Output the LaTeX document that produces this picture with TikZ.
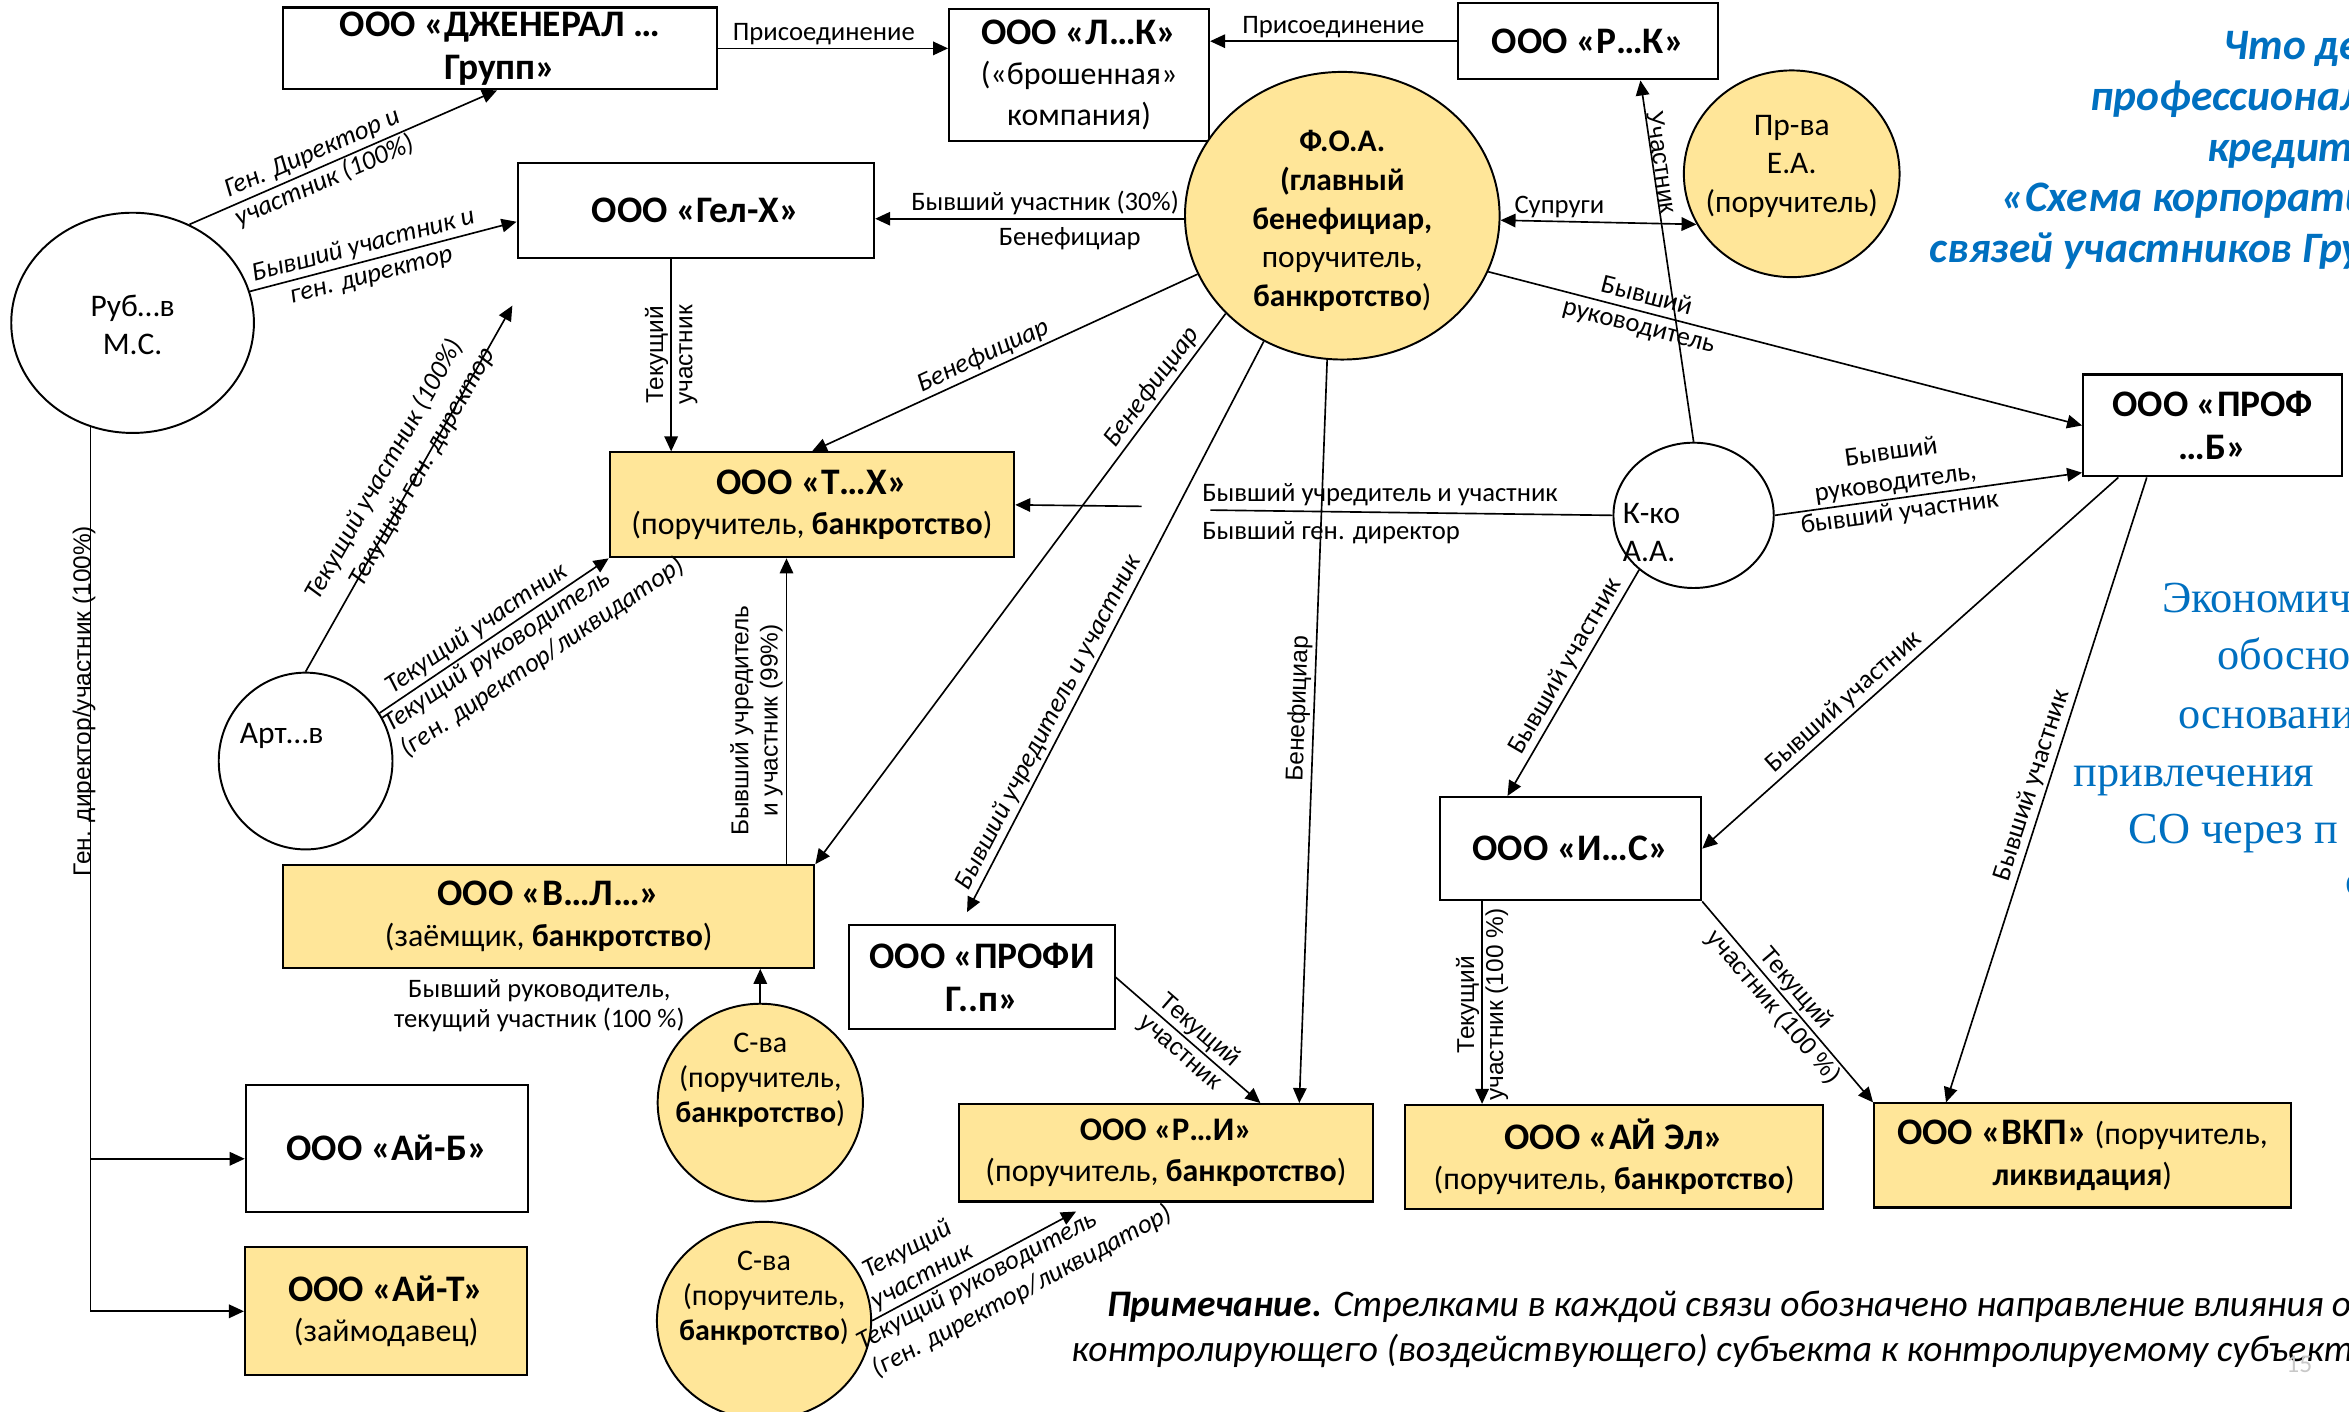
\documentclass[tikz,border=0pt]{standalone}
\usepackage{fontspec}
\setmainfont{Carlito}
\newfontfamily\arialfont{Liberation Sans}
\newfontfamily\timesfont{Liberation Serif}
\usetikzlibrary{arrows.meta,shapes.geometric}
\definecolor{gold}{HTML}{FFE699}
\definecolor{titleblue}{HTML}{0070C0}
\definecolor{pagegray}{HTML}{C8C8C8}
\newcommand{\ttlfont}{\fontsize{25}{28.5}\selectfont\bfseries}
\newcommand{\subfont}{\fontsize{21.3}{27}\selectfont}
\newcommand{\persfont}{\fontsize{21}{25.8}\selectfont}
\newcommand{\lblfont}{\fontsize{17.8}{20.5}\selectfont}
\newcommand{\slblfont}{\arialfont\fontsize{16.3}{19.5}\selectfont}
\tikzset{
  orgbox/.style={rectangle,draw=black,line width=1.4pt,fill=white,
    align=center,inner sep=2pt,font=\subfont},
  ttlbox/.style={orgbox,font=\ttlfont},
  goldbox/.style={orgbox,fill=gold},
  person/.style={ellipse,draw=black,line width=1.3pt,fill=white,inner sep=0pt},
  goldperson/.style={person,fill=gold},
  perstext/.style={align=center,inner sep=0pt,font=\persfont},
  link/.style={draw=black,line width=1.1pt},
  arrow/.style={link,-{Triangle[length=10pt,width=9pt]}},
  mutual/.style={link,{Triangle[length=10pt,width=9pt]}-{Triangle[length=10pt,width=9pt]}},
  lbl/.style={align=center,inner sep=2pt,font=\lblfont},
  ilbl/.style={lbl,font=\lblfont\itshape},
  slbl/.style={align=center,inner sep=2pt,font=\slblfont},
  bluehead/.style={anchor=base west,inner sep=0pt,text=titleblue,
    font=\fontsize{29}{34}\selectfont\bfseries\itshape},
  blueserif/.style={anchor=base west,inner sep=0pt,text=titleblue,
    font=\timesfont\fontsize{29.6}{38.5}\selectfont},
  notetext/.style={anchor=base west,inner sep=0pt,font=\fontsize{25}{31}\selectfont\itshape}
}

\begin{document}
\begin{tikzpicture}[x=1pt,y=-1pt]
\useasboundingbox (0,0) rectangle (1568,942);
\fill[white] (0,0) rectangle (1568,942);
\clip (0,0) rectangle (1568,942);

% companies
\node[ttlbox,minimum width=289.5pt,minimum height=54.6pt] (gen) at (333.8,32.3) {ООО «ДЖЕНЕРАЛ …\\Групп»};
\node[orgbox,minimum width=173.5pt,minimum height=88pt] (lk) at (720.3,50) {{\ttlfont ООО «Л…К»}\\(«брошенная»\\компания)};
\node[ttlbox,minimum width=174pt,minimum height=51pt] (rk) at (1060,27.5) {ООО «Р…К»};
\node[ttlbox,minimum width=238pt,minimum height=63pt] (gelx) at (464.5,140.5) {ООО «Гел-Х»};
\node[goldbox,minimum width=270pt,minimum height=70pt] (tx) at (542,337) {{\ttlfont ООО «Т…Х»}\\(поручитель, \textbf{банкротство})};
\node[goldbox,minimum width=354.5pt,minimum height=68.5pt] (vl) at (366.3,611.8) {{\ttlfont ООО «В…Л…»}\\(заёмщик, \textbf{банкротство})};
\node[ttlbox,minimum width=177pt,minimum height=69.5pt] (profig) at (655.5,652.3) {ООО «ПРОФИ\\Г..п»};
\node[goldbox,minimum width=276.5pt,minimum height=65pt] (ri) at (778.3,769.5) {{\fontsize{22}{26}\selectfont\bfseries ООО «Р…И»}\\(поручитель, \textbf{банкротство})};
\node[ttlbox,minimum width=174.5pt,minimum height=69pt] (ic) at (1048.3,566.5) {ООО «И…С»};
\node[goldbox,minimum width=279pt,minimum height=69.5pt] (ail) at (1077.5,772.3) {{\ttlfont ООО «АЙ Эл»}\\(поручитель, \textbf{банкротство})};
\node[goldbox,minimum width=278pt,minimum height=69.5pt] (vkp) at (1390,771.3) {{\ttlfont ООО «ВКП»} (поручитель,\\\textbf{ликвидация})};
\node[ttlbox,minimum width=173pt,minimum height=68pt] (profb) at (1477,284) {ООО «ПРОФ\\…Б»};
\node[ttlbox,minimum width=188.5pt,minimum height=85pt] (aib) at (258.3,766.5) {ООО «Ай-Б»};
\node[goldbox,minimum width=188.5pt,minimum height=85.5pt] (ait) at (257.8,875.3) {{\ttlfont ООО «Ай-Т»}\\(займодавец)};

% persons
\node[person,minimum width=162pt,minimum height=147pt] (rub) at (88.5,215.5) {};
\node[perstext] (rub-t) at (88.5,217) {Руб…в\\М.С.};
\node[goldperson,minimum width=210pt,minimum height=192pt] (foa) at (896,144) {};
\node[perstext] (foa-t) at (896,147.5) {\textbf{Ф.О.А.}\\\textbf{(главный}\\\textbf{бенефициар,}\\поручитель,\\\textbf{банкротство})};
\node[goldperson,minimum width=144pt,minimum height=138pt] (prva) at (1196,116) {};
\node[perstext] (prva-t) at (1196,111) {Пр-ва\\Е.А.\\(поручитель)};
\node[person,minimum width=107pt,minimum height=97pt] (kko) at (1130.5,344) {};
\node[perstext,anchor=west,align=left] (kko-t) at (1083,355.5) {К-ко\\А.А.};
\node[person,minimum width=116pt,minimum height=118pt] (art) at (204,508) {};
\node[perstext] (art-t) at (188,491) {Арт…в};
\node[goldperson,minimum width=137pt,minimum height=132pt] (sva1) at (507.5,736) {};
\node[perstext,font=\fontsize{20}{23.3}\selectfont] (sva1-t) at (507.5,721) {С-ва\\(поручитель,\\\textbf{банкротство})};
\node[goldperson,minimum width=143pt,minimum height=132pt] (sva2) at (510,881.6) {};
\node[perstext,font=\fontsize{20}{23.3}\selectfont] (sva2-t) at (510,866.5) {С-ва\\(поручитель,\\\textbf{банкротство})};

% links
\draw[arrow] (gen.east) -- (gen.east -| lk.west) node[lbl,pos=.46,above] (l-join1) {Присоединение};
\draw[arrow] (rk.west) -- (rk.west -| lk.east) node[lbl,midway,above] (l-join2) {Присоединение};
\draw[arrow] (rub.60) -- ([xshift=-2pt]gen.south) node[ilbl,pos=.42,sloped] (l-rubgen) {Ген. Директор и\\участник (100\%)};
\draw[arrow] (rub.15) -- ([yshift=-7.5pt]gelx.west) node[ilbl,pos=.44,sloped] (l-rubgel) {Бывший участник и\\ген. директор};
\draw[arrow] ([yshift=-2pt]foa.west) -- ([yshift=-2pt]foa.west -| gelx.east)
  node[lbl,pos=.45,above] (l-foagel1) {Бывший участник (30\%)}
  node[lbl,pos=.37,below=3pt] (l-foagel2) {Бенефициар};
\draw[arrow] ([xshift=-16.5pt]gelx.south) -- ([xshift=-16.5pt]gelx.south |- tx.north) node[slbl,midway,rotate=90] (l-geltx) {Текущий\\участник};

\coordinate (artend) at (342,204);
\draw[arrow] (art.north) -- (artend)
  node[ilbl,pos=.51,sloped,above=10pt] (l-art1) {Текущий участник (100\%)}
  node[ilbl,pos=.56,sloped,below=-9pt] (l-art2) {Текущий ген. директор};
\draw[arrow] (art.33) -- (tx.south west)
  node[ilbl,pos=.46,sloped,above] (l-arttx1) {Текущий участник}
  node[ilbl,pos=.6,sloped,below,align=left] (l-arttx2) {Текущий руководитель\\(ген. директор/ликвидатор)};

\draw[arrow] (rub.-112) -- node[slbl,pos=.31,rotate=90,anchor=base] (l-rubdown) {Ген. директор/участник (100\%)} (rub.-112 |- ait.west) -- (ait.west);
\draw[arrow] ([yshift=-7pt]rub.-112 |- aib.west) -- ([yshift=-7pt]aib.west);

\draw[arrow] (foa.202) -- (tx.north) node[ilbl,pos=.54,sloped,above] (l-foatx) {Бенефициар};
\draw[arrow] (foa.220) -- (vl.north east) node[ilbl,pos=.15,sloped,above] (l-foavl) {Бенефициар};
\draw[arrow] (foa.238) -- ([xshift=-10pt,yshift=8pt]profig.north) node[ilbl,pos=.68,sloped,above] (l-foapg) {Бывший учредитель и участник};
\draw[arrow] (foa.264) -- ([xshift=89pt]ri.north) node[slbl,pos=.47,sloped,above] (l-foari) {Бенефициар};
\draw[arrow] (foa.-21) -- (profb.west) node[lbl,pos=.26,sloped] (l-foapb) {Бывший\\руководитель};
\draw[mutual] ([yshift=-3pt]foa.east) -- (prva.208) node[lbl,pos=.3,above] (l-spouse) {Супруги};

\draw[arrow] (kko.north) -- ([xshift=35pt]rk.south) node[slbl,pos=.77,sloped,above=-2pt] (l-kkork) {Участник};
\coordinate (gapR) at (808,340.5);
\coordinate (gapL) at (762,338);
\draw[link] (kko.west) -- (gapR)
  node[lbl,pos=1,anchor=south west,xshift=-8pt] (l-kkotx1) {Бывший учредитель и участник}
  node[lbl,pos=1,anchor=north west,xshift=-8pt,yshift=-5pt] (l-kkotx2) {Бывший ген. директор};
\draw[arrow] (gapL) -- (tx.east);
\draw[arrow] (kko.east) -- ([yshift=-31.5pt]profb.west)
  node[lbl,pos=.4,sloped,above] (l-kkopb1) {Бывший\\руководитель,}
  node[lbl,pos=.4,sloped,below] (l-kkopb2) {бывший участник};
\draw[arrow] (kko.225) -- ([xshift=-42pt]ic.north) node[lbl,pos=.46,sloped,above] (l-kkoic) {Бывший участник};

\draw[arrow] ([xshift=-63pt]profb.south) -- (ic.east) node[lbl,pos=.635,sloped,above] (l-pbic) {Бывший участник};
\draw[arrow] ([xshift=-44pt]profb.south) -- ([xshift=-91pt]vkp.north) node[lbl,pos=.5,sloped,above] (l-pbvkp) {Бывший участник};
\draw[arrow] ([xshift=-59pt]ic.south) -- ([xshift=-59pt]ic.south |- ail.north) node[slbl,pos=.51,rotate=90] (l-icail) {Текущий\\участник (100 \%)};
\draw[arrow] (ic.south east) -- (vkp.north west) node[slbl,pos=.48,sloped] (l-icvkp) {Текущий\\участник (100 \%)};
\draw[arrow] (profig.east) -- ([xshift=63pt]ri.north) node[slbl,pos=.51,sloped] (l-pgri) {Текущий\\участник};

\draw[arrow] ([xshift=158.7pt]vl.north) -- ([xshift=158.7pt]vl.north |- tx.south) node[slbl,pos=.47,rotate=90,anchor=south] (l-vltx) {Бывший учредитель\\и участник (99\%)};
\draw[arrow] (sva1.north) -- (sva1.north |- vl.south) node[lbl,pos=0,anchor=east,xshift=-48pt,yshift=-2pt] (l-svavl) {Бывший руководитель,\\текущий участник (100 \%)};
\draw[arrow] (sva2.east) -- ([xshift=-60pt,yshift=-6pt]ri.south)
  node[ilbl,pos=.28,sloped,above] (l-svari1) {Текущий\\участник}
  node[ilbl,pos=.63,sloped,below,align=left] (l-svari2) {Текущий руководитель\\(ген. директор/ликвидатор)};

% slide texts cut by the page edge
\node[bluehead] (head1) at (1484,40) {Что де};
\node[bluehead] (head2) at (1395,73.5) {профессионал};
\node[bluehead] (head3) at (1473,108) {кредит};
\node[bluehead] (head4) at (1336,141.5) {«Схема корпорати};
\node[bluehead] (head5) at (1288,175) {связей участников Гру};
\node[blueserif] (side1) at (1443,408.6) {Экономич};
\node[blueserif] (side2) at (1480,447) {обосно};
\node[blueserif] (side3) at (1454,486) {основани};
\node[blueserif] (side4) at (1384,525) {привлечения};
\node[blueserif] (side5) at (1420.6,563) {СО через п};
\node[blueserif] (side6) at (1565.5,597.5) {с};
\node[notetext] (note1) at (739,879) {\textbf{Примечание.} Стрелками в каждой связи обозначено направление влияния от};
\node[notetext] (note2) at (715,909) {контролирующего (воздействующего) субъекта к контролируемому субъекту};
\node[anchor=base west,inner sep=0pt,text=pagegray,font=\fontsize{17}{20}\selectfont] (pnum) at (1526,916) {15};
\end{tikzpicture}
\end{document}
